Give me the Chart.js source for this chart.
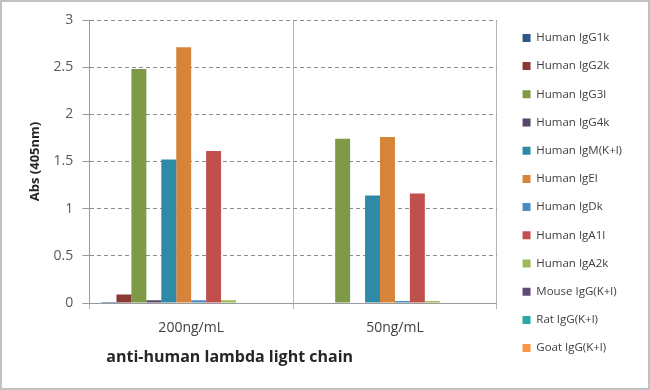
<!DOCTYPE html>
<html>
<head>
<meta charset="utf-8">
<script src="https://cdn.jsdelivr.net/npm/chart.js@4"></script>
<style>
  body { margin: 0; background: #fff; }
  #wrap { position: relative; width: 650px; height: 390px; }
  #frame { position: absolute; left: 0; top: 0; width: 646px; height: 386px; border: 2px solid #c2c2c2; pointer-events: none; }
</style>
</head>
<body>
<div id="wrap">
  <canvas id="absChart" width="650" height="390"></canvas>
  <div id="frame"></div>
</div>
<script>
const concentrations = ['200ng/mL', '50ng/mL'];
const antibodies = ['Human IgG1k', 'Human IgG2k', 'Human IgG3l', 'Human IgG4k', 'Human IgM(K+l)', 'Human IgEl',
  'Human IgDk', 'Human IgA1l', 'Human IgA2k', 'Mouse IgG(K+l)', 'Rat IgG(K+l)', 'Goat IgG(K+l)'];
const abs200 = [0.01, 0.09, 2.48, 0.03, 1.52, 2.71, 0.03, 1.61, 0.03, 0, 0, 0];
const abs50 = [0, 0, 1.74, 0, 1.14, 1.76, 0.02, 1.16, 0.02, 0, 0, 0];
const yMax = 3;
const yStep = 0.5;
const colors = ['#2c5a86', '#8a3a35', '#7e9a47', '#56476b', '#2e8aa6', '#d7843b',
  '#4a8cc0', '#c0504d', '#9bbb59', '#5f4b7a', '#2aa7a0', '#f79646'];

const xAxisTitle = 'anti-human lambda light chain';
const FONT = "'Open Sans'";

// bottom axis title sits left of centre in the original, so draw it ourselves
const xTitlePlugin = {
  id: 'xTitle',
  afterDraw(chart) {
    const {ctx, chartArea} = chart;
    ctx.save();
    ctx.font = 'bold 16px ' + FONT;
    ctx.fillStyle = '#262626';
    ctx.textBaseline = 'alphabetic';
    ctx.textAlign = 'left';
    ctx.fillText(xAxisTitle, chartArea.left + 17, 362);
    ctx.restore();
  }
};

const ctx = document.getElementById('absChart');

new Chart(ctx, {
  type: 'bar',
  data: {
    labels: concentrations,
    datasets: antibodies.map((name, i) => ({
      label: name,
      data: [abs200[i], abs50[i]],
      backgroundColor: colors[i],
      borderWidth: 0,
      categoryPercentage: 0.88,
      barPercentage: 1.0
    }))
  },
  options: {
    responsive: false,
    animation: false,
    layout: { padding: { left: 27, right: 18, top: 0, bottom: 4 } },
    plugins: {
      tooltip: { enabled: false },
      // empty, not full width: only pushes the plot down, not the legend
      title: { display: true, text: ' ', fullSize: false, font: { size: 10 }, padding: { top: 4, bottom: 4 } },
      legend: {
        position: 'right',
        align: 'center',
        maxWidth: 140,
        labels: {
          boxWidth: 8,
          boxHeight: 8,
          padding: 16.7,
          color: '#404040',
          font: { family: FONT, size: 11.5 }
        }
      }
    },
    scales: {
      x: {
        grid: {
          offset: true,
          color: '#b4b4b4',
          tickLength: 6
        },
        border: { color: '#9a9a9a', width: 1 },
        ticks: { color: '#404040', padding: 11, font: { family: FONT, size: 14 } },
        afterFit(scale) { scale.height = 83; }
      },
      y: {
        min: 0,
        max: yMax,
        ticks: {
          stepSize: yStep,
          color: '#595959',
          padding: 9,
          font: { family: FONT, size: 14 },
          callback: v => String(v)
        },
        grid: {
          color: '#8c8c8c',
          tickColor: '#9a9a9a',
          tickBorderDash: [],
          tickLength: 7
        },
        border: { color: '#9a9a9a', width: 1, dash: [4, 3] },
        title: {
          display: true,
          text: 'Abs (405nm)',
          color: '#262626',
          font: { family: FONT, size: 13, weight: 'bold' },
          padding: { top: 0, bottom: 2 }
        }
      },
      // spacer between plot and legend
      gap: {
        type: 'linear',
        position: 'right',
        display: true,
        grid: { display: false },
        ticks: { display: false },
        border: { display: false },
        afterFit(scale) { scale.width = 9; }
      }
    }
  },
  plugins: [xTitlePlugin]
});
</script>
</body>
</html>
